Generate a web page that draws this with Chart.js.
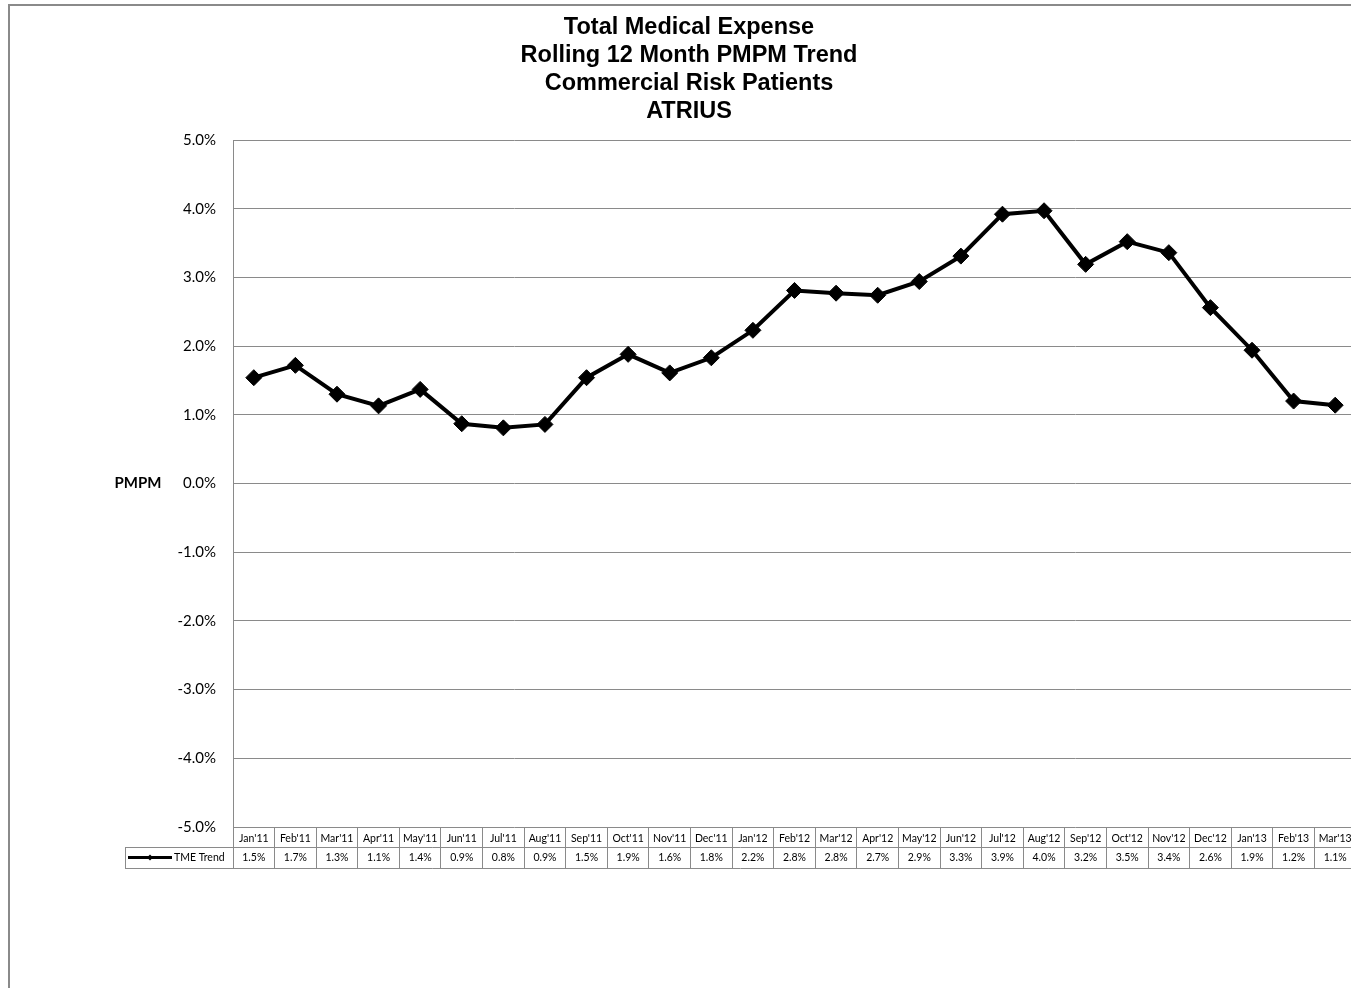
<!DOCTYPE html>
<html>
<head>
<meta charset="utf-8">
<script src="https://cdn.jsdelivr.net/npm/chart.js@4"></script>
<style>
    html, body { margin: 0; padding: 0; background: #fff; overflow: hidden; }
    #wrap { position: absolute; left: 0; top: 0; width: 1376px; height: 988px; }
</style>
</head>
<body>
<div id="wrap"><canvas id="tmeChart" width="1376" height="988"></canvas></div>
<script>
// Chart data
var titleLines = ['Total Medical Expense', 'Rolling 12 Month PMPM Trend', 'Commercial Risk Patients', 'ATRIUS'];
var seriesName = 'TME Trend';
var months = [
    "Jan'11", "Feb'11", "Mar'11", "Apr'11", "May'11", "Jun'11", "Jul'11", "Aug'11", "Sep'11",
    "Oct'11", "Nov'11", "Dec'11", "Jan'12", "Feb'12", "Mar'12", "Apr'12", "May'12", "Jun'12",
    "Jul'12", "Aug'12", "Sep'12", "Oct'12", "Nov'12", "Dec'12", "Jan'13", "Feb'13", "Mar'13"
];
var tmeTrend = [
    1.54, 1.72, 1.30, 1.13, 1.37, 0.87, 0.81, 0.86, 1.54,
    1.88, 1.61, 1.83, 2.23, 2.81, 2.77, 2.74, 2.94, 3.31,
    3.92, 3.97, 3.19, 3.52, 3.36, 2.56, 1.94, 1.20, 1.14
];
var tableLabels = [
    '1.5%', '1.7%', '1.3%', '1.1%', '1.4%', '0.9%', '0.8%', '0.9%', '1.5%',
    '1.9%', '1.6%', '1.8%', '2.2%', '2.8%', '2.8%', '2.7%', '2.9%', '3.3%',
    '3.9%', '4.0%', '3.2%', '3.5%', '3.4%', '2.6%', '1.9%', '1.2%', '1.1%'
];
var yMin = -5, yMax = 5, yStep = 1;

(function () {
    var canvas = document.getElementById('tmeChart');
    var ctx = canvas.getContext('2d');
    var gray = '#8a8a8a';
    var bodyFont = 'Lato, "Open Sans", sans-serif';

    // title, frame, PMPM label and the data table under the plot
    var decorPlugin = {
        id: 'decor',
        afterDraw: function (chart) {
            var c = chart.ctx;
            var area = chart.chartArea;
            var x = chart.scales.x;
            c.save();

            c.strokeStyle = gray;
            c.lineWidth = 2;
            c.strokeRect(9, 5, 1500, 1200);

            c.fillStyle = '#000';
            c.textAlign = 'center';
            c.textBaseline = 'middle';
            c.font = 'bold 23.5px "Liberation Sans", Arial, sans-serif';
            titleLines.forEach(function (t, i) {
                c.fillText(t, 689, 28 + i * 28);
            });

            c.font = 'bold 15px ' + bodyFont;
            c.fillText('PMPM', 138, chart.scales.y.getPixelForValue(0));

            // table rows
            var rowTop = area.bottom + 20, rowBot = area.bottom + 41;
            c.strokeStyle = gray;
            c.lineWidth = 1;
            c.beginPath();
            c.moveTo(125, rowTop + 0.5); c.lineTo(area.right, rowTop + 0.5);
            c.moveTo(125, rowBot + 0.5); c.lineTo(area.right, rowBot + 0.5);
            c.moveTo(125.5, rowTop); c.lineTo(125.5, rowBot);
            c.stroke();

            var midY = (rowTop + rowBot) / 2;
            c.strokeStyle = '#000';
            c.lineWidth = 3;
            c.beginPath();
            c.moveTo(128, midY); c.lineTo(172, midY);
            c.stroke();
            c.fillStyle = '#000';
            c.beginPath();
            c.moveTo(150, midY - 3); c.lineTo(153, midY); c.lineTo(150, midY + 3); c.lineTo(147, midY);
            c.closePath();
            c.fill();

            c.font = '10.5px ' + bodyFont;
            c.textAlign = 'left';
            c.fillText(seriesName, 174, midY);
            c.textAlign = 'center';
            tableLabels.forEach(function (lbl, i) {
                c.fillText(lbl, x.getPixelForTick(i), midY);
            });
            c.restore();
        }
    };

    new Chart(ctx, {
        type: 'line',
        data: {
            labels: months,
            datasets: [{
                label: seriesName,
                data: tmeTrend,
                borderColor: '#000',
                borderWidth: 4,
                backgroundColor: '#000',
                pointStyle: 'rectRot',
                pointRadius: 8,
                pointBorderWidth: 1,
                pointBackgroundColor: '#000',
                pointBorderColor: '#000',
                tension: 0,
                fill: false
            }]
        },
        options: {
            responsive: false,
            animation: false,
            layout: { padding: { left: 0, right: 20, top: 140, bottom: 120 } },
            plugins: {
                legend: { display: false },
                title: { display: false },
                tooltip: { enabled: false }
            },
            events: [],
            scales: {
                x: {
                    offset: true,
                    afterFit: function (scale) { scale.height = 41; },
                    border: { display: false },
                    grid: {
                        offset: true,
                        drawOnChartArea: false,
                        drawTicks: true,
                        tickLength: 41,
                        color: gray
                    },
                    ticks: {
                        autoSkip: false,
                        maxRotation: 0,
                        minRotation: 0,
                        padding: -36,
                        color: '#000',
                        font: { size: 10.5, family: bodyFont }
                    }
                },
                y: {
                    min: yMin,
                    max: yMax,
                    afterFit: function (scale) { scale.width = 233; },
                    border: { display: true, color: gray, width: 1 },
                    grid: { color: gray, drawTicks: false },
                    ticks: {
                        stepSize: yStep,
                        padding: 17,
                        color: '#000',
                        font: { size: 15, family: bodyFont },
                        callback: function (v) { return v.toFixed(1) + '%'; }
                    }
                }
            }
        },
        plugins: [decorPlugin]
    });
})();
</script>
</body>
</html>
